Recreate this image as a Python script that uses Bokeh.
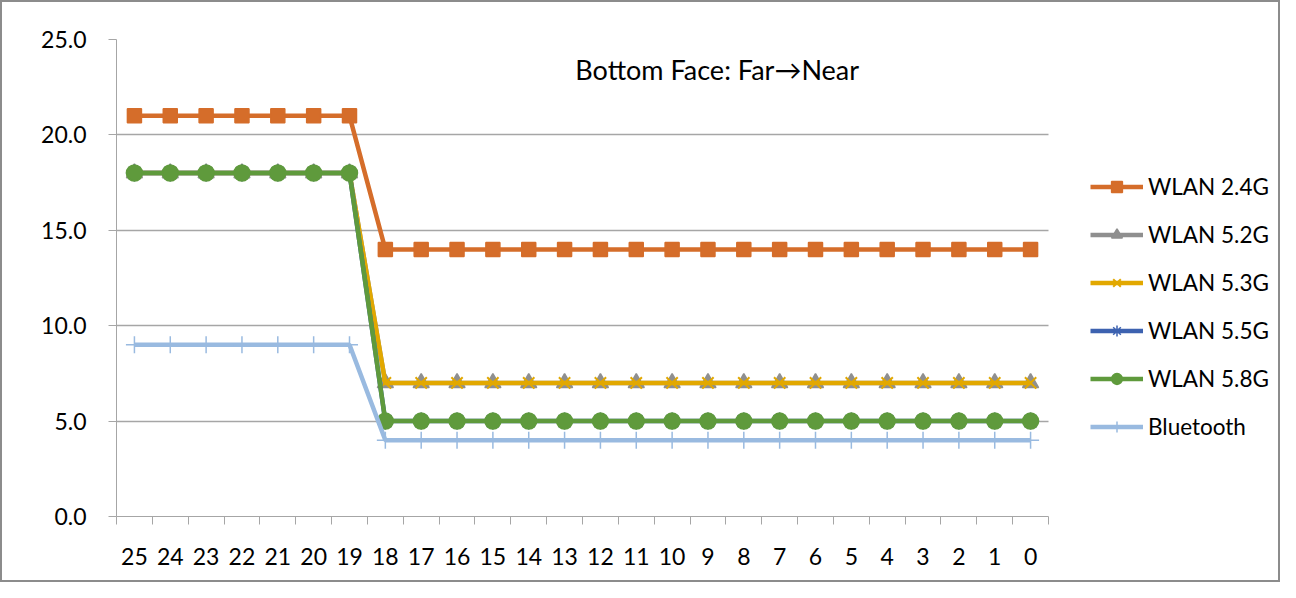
from bokeh.plotting import figure
from bokeh.models import FixedTicker, Legend, LegendItem, Label
from bokeh.embed import file_html
from bokeh.resources import INLINE

categories = ["25", "24", "23", "22", "21", "20", "19", "18", "17", "16", "15", "14", "13",
              "12", "11", "10", "9", "8", "7", "6", "5", "4", "3", "2", "1", "0"]
wlan24 = [21, 21, 21, 21, 21, 21, 21] + [14] * 19
wlan52 = [18, 18, 18, 18, 18, 18, 18] + [7] * 19
wlan53 = [18, 18, 18, 18, 18, 18, 18] + [7] * 19
wlan55 = [18, 18, 18, 18, 18, 18, 18] + [5] * 19
wlan58 = [18, 18, 18, 18, 18, 18, 18] + [5] * 19
bluetooth = [9, 9, 9, 9, 9, 9, 9] + [4] * 19
y_ticks = [0, 5, 10, 15, 20, 25]
title_text = "Bottom Face: Far\u2192Near"

FONT = "Lato"
FS = "23px"

n = len(categories)
xs = list(range(n))

W, H = 1280, 582
ML, MT, MB, MR = 114, 37, 68, 6
frame_w = W - ML - MR
unit_px = 932 / n
x_end = -0.5 + frame_w / unit_px

p = figure(width=W, height=H, output_backend="svg", toolbar_location=None,
           x_range=(-0.5, x_end), y_range=(0, 25),
           min_border_left=ML, min_border_top=MT, min_border_bottom=MB, min_border_right=MR)
p.styles = {"border": "2px solid #8c8c8c", "box-sizing": "border-box"}
p.outline_line_color = None
p.background_fill_color = "white"
p.border_fill_color = "white"

# y axis
p.yaxis.ticker = FixedTicker(ticks=y_ticks)
p.yaxis.major_label_overrides = {t: f"{t:.1f}" for t in y_ticks}
p.yaxis.major_tick_out = 8
p.yaxis.major_tick_in = 0
p.yaxis.minor_tick_out = 0
p.yaxis.minor_tick_in = 0
p.yaxis.axis_line_color = "#a6a6a6"
p.yaxis.major_tick_line_color = "#a6a6a6"
p.yaxis.major_label_text_font = FONT
p.yaxis.major_label_text_font_size = FS
p.yaxis.major_label_text_color = "black"
p.yaxis.major_label_standoff = 22
p.ygrid.grid_line_color = "#a6a6a6"
p.ygrid.grid_line_width = 1.5
p.ygrid.cross_bounds = (-0.5, n - 0.5)

# x axis
p.xaxis.ticker = FixedTicker(ticks=xs, minor_ticks=[i - 0.5 for i in range(n + 1)])
p.xaxis.major_label_overrides = {i: c for i, c in enumerate(categories)}
p.xaxis.bounds = (-0.5, n - 0.5)
p.xaxis.major_tick_out = 0
p.xaxis.major_tick_in = 0
p.xaxis.minor_tick_out = 8
p.xaxis.minor_tick_in = 0
p.xaxis.axis_line_color = "#a6a6a6"
p.xaxis.minor_tick_line_color = "#a6a6a6"
p.xaxis.major_label_text_font = FONT
p.xaxis.major_label_text_font_size = FS
p.xaxis.major_label_text_color = "black"
p.xaxis.major_label_standoff = 23
p.xgrid.grid_line_color = None

LW = 4.5
items = []

def add_series(name, ys, color, marker, size, fill=True, mlw=1.5):
    r_line = p.line(xs, ys, line_color=color, line_width=LW)
    r_mark = p.scatter(xs, ys, marker=marker, size=size, line_color=color,
                       fill_color=color if fill else None, line_width=mlw)
    items.append(LegendItem(label=name, renderers=[r_line, r_mark]))

add_series("WLAN 2.4G", wlan24, "#d56d2a", "square", 14)
add_series("WLAN 5.2G", wlan52, "#8f8f8f", "triangle", 16)
add_series("WLAN 5.3G", wlan53, "#e2a800", "x", 16, fill=False, mlw=2)
add_series("WLAN 5.5G", wlan55, "#3d62b0", "asterisk", 17, fill=False, mlw=1.5)
add_series("WLAN 5.8G", wlan58, "#5f9a3c", "circle", 16)
add_series("Bluetooth", bluetooth, "#99bae0", "cross", 17, fill=False, mlw=1.5)

legend = Legend(items=items, location=(974, 76), orientation="vertical",
                glyph_width=53, glyph_height=27, label_height=27, spacing=21,
                label_standoff=5, padding=0, margin=0,
                label_text_font=FONT, label_text_font_size="22.5px", label_text_color="black",
                border_line_color=None, background_fill_alpha=0)
p.add_layout(legend, "center")

p.add_layout(Label(x=12.3, y=23.45, text=title_text, text_font=FONT,
                   text_font_size="27px", text_color="black", text_baseline="middle",
                   text_align="left"))

open("out.html", "w").write(file_html(p, INLINE))
